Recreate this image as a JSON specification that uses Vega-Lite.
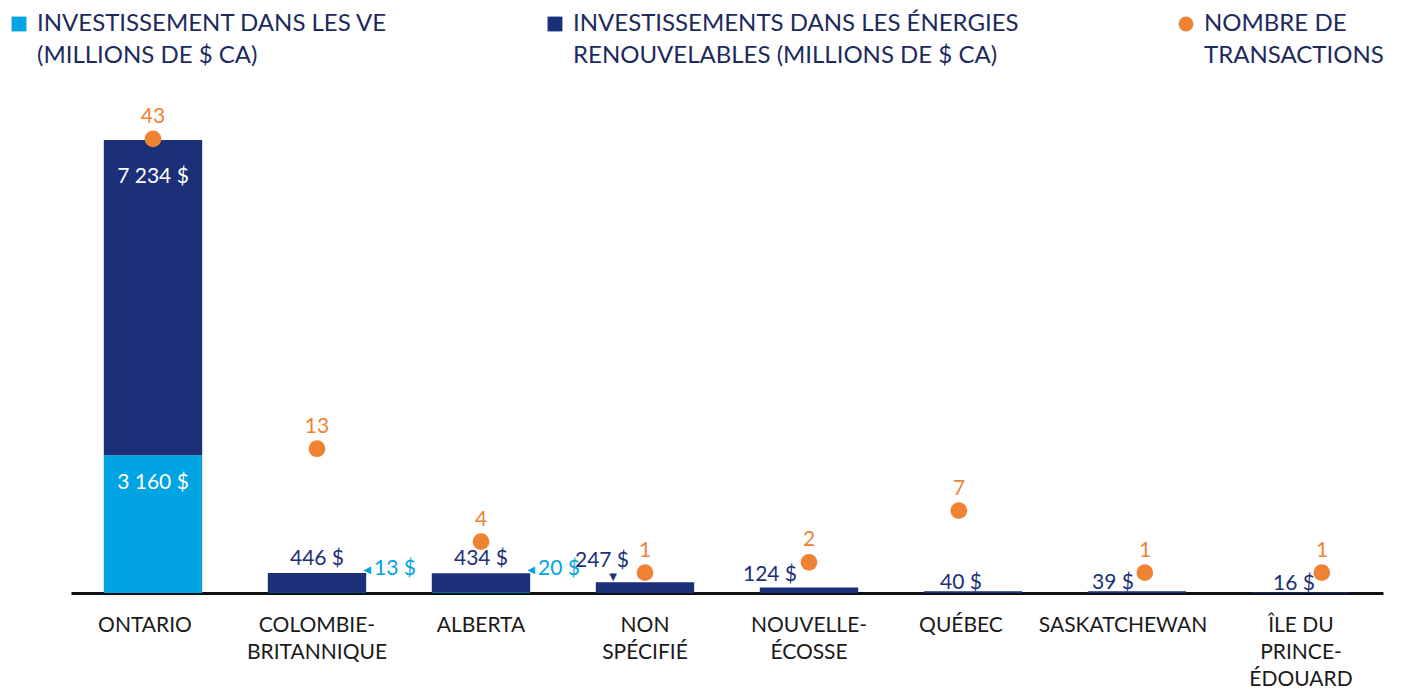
{
  "$schema": "https://vega.github.io/schema/vega-lite/v6.json",
  "autosize": "none",
  "width": 1312,
  "height": 483,
  "padding": {"left": 71, "top": 110, "right": 35, "bottom": 97},
  "config": {
    "view": {"stroke": null},
    "font": "Lato",
    "style": {"guide-label": {"lineHeight": 32}},
    "locale": {"number": {"decimal": ",", "thousands": " ", "grouping": [3], "currency": ["", " $"]}}
  },
  "data": {
    "values": [
      {"province": "ONTARIO", "series": "ve", "value": 3160},
      {"province": "ONTARIO", "series": "er", "value": 7234},
      {"province": "ONTARIO", "series": "tx", "value": 43},
      {"province": "COLOMBIE-BRITANNIQUE", "series": "ve", "value": 13},
      {"province": "COLOMBIE-BRITANNIQUE", "series": "er", "value": 446},
      {"province": "COLOMBIE-BRITANNIQUE", "series": "tx", "value": 13},
      {"province": "ALBERTA", "series": "ve", "value": 20},
      {"province": "ALBERTA", "series": "er", "value": 434},
      {"province": "ALBERTA", "series": "tx", "value": 4},
      {"province": "NON SPÉCIFIÉ", "series": "er", "value": 247},
      {"province": "NON SPÉCIFIÉ", "series": "tx", "value": 1},
      {"province": "NOUVELLE-ÉCOSSE", "series": "er", "value": 124},
      {"province": "NOUVELLE-ÉCOSSE", "series": "tx", "value": 2},
      {"province": "QUÉBEC", "series": "er", "value": 40},
      {"province": "QUÉBEC", "series": "tx", "value": 7},
      {"province": "SASKATCHEWAN", "series": "er", "value": 39},
      {"province": "SASKATCHEWAN", "series": "tx", "value": 1},
      {"province": "ÎLE-DU-PRINCE-ÉDOUARD", "series": "er", "value": 16},
      {"province": "ÎLE-DU-PRINCE-ÉDOUARD", "series": "tx", "value": 1}
    ]
  },
  "encoding": {
    "x": {
      "field": "province",
      "type": "nominal",
      "sort": null,
      "scale": {"paddingInner": 0.4, "paddingOuter": 0.2},
      "axis": {
        "title": null,
        "ticks": false,
        "domainColor": "#111111",
        "domainWidth": 3,
        "labelAngle": 0,
        "labelFont": "Lato",
        "labelFontSize": 21,
        "labelColor": "#1a1a1a",
        "labelPadding": 32,
        "labelLineHeight": 27,
        "labelBaseline": "middle",
        "labelLimit": 300,
        "labelOffset": {"condition": [{"test": "datum.label == 'QUÉBEC'", "value": -12}, {"test": "datum.label == 'SASKATCHEWAN'", "value": -14}, {"test": "datum.label == 'ONTARIO'", "value": -8}], "value": 0},
        "labelExpr": "datum.label == 'NON SPÉCIFIÉ' ? ['NON', 'SPÉCIFIÉ'] : datum.label == 'ÎLE-DU-PRINCE-ÉDOUARD' ? ['ÎLE DU', 'PRINCE-', 'ÉDOUARD'] : datum.label == 'COLOMBIE-BRITANNIQUE' ? ['COLOMBIE-', 'BRITANNIQUE'] : datum.label == 'NOUVELLE-ÉCOSSE' ? ['NOUVELLE-', 'ÉCOSSE'] : datum.label"
      }
    }
  },
  "resolve": {"scale": {"y": "independent"}},
  "layer": [
    {
      "transform": [{"filter": "datum.series != 'tx'"}],
      "mark": {"type": "bar"},
      "encoding": {
        "y": {"field": "value", "type": "quantitative", "stack": "zero", "scale": {"domain": [0, 11083], "nice": false}, "axis": null},
        "color": {
          "field": "series",
          "type": "nominal",
          "scale": {"domain": ["ve", "er", "tx"], "range": ["#00a4e2", "#1b3078", "#f08234"]},
          "legend": {
            "title": null,
            "orient": "none",
            "legendX": -64,
            "legendY": -98,
            "direction": "horizontal",
            "columns": 3,
            "columnPadding": 155,
            "symbolSize": 220,
            "labelFont": "Lato",
            "labelFontSize": 24,
            "labelColor": "#1c2a5e",
            "labelBaseline": "middle",
            "labelOffset": 6,
            "labelLimit": 600,
            "labelExpr": "datum.value == 've' ? ['INVESTISSEMENT DANS LES VE', '(MILLIONS DE $ CA)'] : datum.value == 'er' ? ['INVESTISSEMENTS DANS LES ÉNERGIES', 'RENOUVELABLES (MILLIONS DE $ CA)'] : ['NOMBRE DE', 'TRANSACTIONS']"
          }
        },
        "order": {"field": "series", "sort": "descending"}
      }
    },
    {
      "transform": [
        {"filter": "datum.series != 'tx' && datum.province == 'ONTARIO'"},
        {"stack": "value", "groupby": ["province"], "sort": [{"field": "series", "order": "descending"}], "as": ["v0", "v1"]},
        {"filter": "datum.series == 'er'"}
      ],
      "mark": {"type": "text", "baseline": "top", "dy": 26, "fontSize": 21, "color": "white"},
      "encoding": {
        "y": {"field": "v1", "type": "quantitative", "scale": {"domain": [0, 11083], "nice": false}, "axis": null},
        "text": {"field": "value", "type": "quantitative", "format": "$,d"}
      }
    },
    {
      "transform": [
        {"filter": "datum.series == 've' && datum.province == 'ONTARIO'"}
      ],
      "mark": {"type": "text", "baseline": "top", "dy": 17, "fontSize": 21, "color": "white"},
      "encoding": {
        "y": {"field": "value", "type": "quantitative", "scale": {"domain": [0, 11083], "nice": false}, "axis": null},
        "text": {"field": "value", "type": "quantitative", "format": "$,d"}
      }
    },
    {
      "transform": [
        {"filter": "datum.series != 'tx'"},
        {"joinaggregate": [{"op": "sum", "field": "value", "as": "total"}], "groupby": ["province"]},
        {"filter": "datum.series == 'er' && indexof(['COLOMBIE-BRITANNIQUE', 'ALBERTA'], datum.province) >= 0"}
      ],
      "mark": {"type": "text", "baseline": "bottom", "dy": -4, "fontSize": 21, "color": "#1b3078"},
      "encoding": {
        "y": {"field": "total", "type": "quantitative", "scale": {"domain": [0, 11083], "nice": false}, "axis": null},
        "text": {"field": "value", "type": "quantitative", "format": "$,d"}
      }
    },
    {
      "transform": [{"filter": "datum.series == 'er' && datum.province == 'NON SPÉCIFIÉ'"}],
      "mark": {"type": "text", "baseline": "bottom", "dx": -43, "dy": -11, "fontSize": 21, "color": "#1b3078"},
      "encoding": {
        "y": {"field": "value", "type": "quantitative", "scale": {"domain": [0, 11083], "nice": false}, "axis": null},
        "text": {"field": "value", "type": "quantitative", "format": "$,d"}
      }
    },
    {
      "transform": [{"filter": "datum.series == 'er' && datum.province == 'NOUVELLE-ÉCOSSE'"}],
      "mark": {"type": "text", "baseline": "bottom", "dx": -39, "dy": -3, "fontSize": 21, "color": "#1b3078"},
      "encoding": {
        "y": {"field": "value", "type": "quantitative", "scale": {"domain": [0, 11083], "nice": false}, "axis": null},
        "text": {"field": "value", "type": "quantitative", "format": "$,d"}
      }
    },
    {
      "transform": [{"filter": "datum.series == 'er' && datum.province == 'QUÉBEC'"}],
      "mark": {"type": "text", "baseline": "bottom", "dx": -12, "dy": 2, "fontSize": 21, "color": "#1b3078"},
      "encoding": {
        "y": {"field": "value", "type": "quantitative", "scale": {"domain": [0, 11083], "nice": false}, "axis": null},
        "text": {"field": "value", "type": "quantitative", "format": "$,d"}
      }
    },
    {
      "transform": [{"filter": "datum.series == 'er' && datum.province == 'SASKATCHEWAN'"}],
      "mark": {"type": "text", "baseline": "bottom", "dx": -24, "dy": 2, "fontSize": 21, "color": "#1b3078"},
      "encoding": {
        "y": {"field": "value", "type": "quantitative", "scale": {"domain": [0, 11083], "nice": false}, "axis": null},
        "text": {"field": "value", "type": "quantitative", "format": "$,d"}
      }
    },
    {
      "transform": [{"filter": "datum.series == 'er' && datum.province == 'ÎLE-DU-PRINCE-ÉDOUARD'"}],
      "mark": {"type": "text", "baseline": "bottom", "dx": -7, "dy": 2, "fontSize": 21, "color": "#1b3078"},
      "encoding": {
        "y": {"field": "value", "type": "quantitative", "scale": {"domain": [0, 11083], "nice": false}, "axis": null},
        "text": {"field": "value", "type": "quantitative", "format": "$,d"}
      }
    },
    {
      "transform": [{"filter": "datum.series == 'er' && datum.province == 'NON SPÉCIFIÉ'"}],
      "mark": {"type": "text", "baseline": "bottom", "dx": -32, "dy": 0, "fontSize": 10, "font": "DejaVu Sans", "color": "#1b3078", "text": "▼"},
      "encoding": {
        "y": {"field": "value", "type": "quantitative", "scale": {"domain": [0, 11083], "nice": false}, "axis": null}
      }
    },
    {
      "transform": [
        {"filter": "datum.series != 'tx'"},
        {"joinaggregate": [{"op": "sum", "field": "value", "as": "total"}], "groupby": ["province"]},
        {"filter": "datum.series == 've' && datum.province != 'ONTARIO'"}
      ],
      "mark": {"type": "text", "align": "left", "baseline": "middle", "dx": 57, "dy": -4, "fontSize": 21, "color": "#00a4e2"},
      "encoding": {
        "y": {"field": "total", "type": "quantitative", "scale": {"domain": [0, 11083], "nice": false}, "axis": null},
        "text": {"field": "value", "type": "quantitative", "format": "$,d"}
      }
    },
    {
      "transform": [
        {"filter": "datum.series != 'tx'"},
        {"joinaggregate": [{"op": "sum", "field": "value", "as": "total"}], "groupby": ["province"]},
        {"filter": "datum.series == 've' && datum.province != 'ONTARIO'"}
      ],
      "mark": {"type": "text", "align": "center", "baseline": "middle", "dx": 50, "dy": -3, "fontSize": 10, "font": "DejaVu Sans", "color": "#00a4e2", "text": "◀"},
      "encoding": {
        "y": {"field": "total", "type": "quantitative", "scale": {"domain": [0, 11083], "nice": false}, "axis": null}
      }
    },
    {
      "transform": [{"filter": "datum.series == 'tx' && indexof(['QUÉBEC', 'SASKATCHEWAN', 'ÎLE-DU-PRINCE-ÉDOUARD'], datum.province) < 0"}],
      "mark": {"type": "point", "filled": true, "opacity": 1, "size": 280},
      "encoding": {
        "y": {"field": "value", "type": "quantitative", "scale": {"domain": [-0.97, 45.8], "nice": false, "zero": false}, "axis": null},
        "color": {"field": "series", "type": "nominal"},
        "shape": {"field": "series", "type": "nominal", "scale": {"domain": ["ve", "er", "tx"], "range": ["square", "square", "circle"]}}
      }
    },
    {
      "transform": [{"filter": "datum.series == 'tx' && datum.province == 'QUÉBEC'"}],
      "mark": {"type": "point", "filled": true, "opacity": 1, "size": 280},
      "encoding": {
        "y": {"field": "value", "type": "quantitative", "scale": {"domain": [-0.97, 45.8], "nice": false, "zero": false}, "axis": null},
        "xOffset": {"value": 35},
        "color": {"field": "series", "type": "nominal"},
        "shape": {"field": "series", "type": "nominal", "scale": {"domain": ["ve", "er", "tx"], "range": ["square", "square", "circle"]}}
      }
    },
    {
      "transform": [{"filter": "datum.series == 'tx' && datum.province == 'SASKATCHEWAN'"}],
      "mark": {"type": "point", "filled": true, "opacity": 1, "size": 280},
      "encoding": {
        "y": {"field": "value", "type": "quantitative", "scale": {"domain": [-0.97, 45.8], "nice": false, "zero": false}, "axis": null},
        "xOffset": {"value": 57},
        "color": {"field": "series", "type": "nominal"},
        "shape": {"field": "series", "type": "nominal", "scale": {"domain": ["ve", "er", "tx"], "range": ["square", "square", "circle"]}}
      }
    },
    {
      "transform": [{"filter": "datum.series == 'tx' && datum.province == 'ÎLE-DU-PRINCE-ÉDOUARD'"}],
      "mark": {"type": "point", "filled": true, "opacity": 1, "size": 280},
      "encoding": {
        "y": {"field": "value", "type": "quantitative", "scale": {"domain": [-0.97, 45.8], "nice": false, "zero": false}, "axis": null},
        "xOffset": {"value": 70},
        "color": {"field": "series", "type": "nominal"},
        "shape": {"field": "series", "type": "nominal", "scale": {"domain": ["ve", "er", "tx"], "range": ["square", "square", "circle"]}}
      }
    },
    {
      "transform": [{"filter": "datum.series == 'tx' && indexof(['QUÉBEC', 'SASKATCHEWAN', 'ÎLE-DU-PRINCE-ÉDOUARD'], datum.province) < 0"}],
      "mark": {"type": "text", "baseline": "bottom", "dy": -12, "fontSize": 21, "color": "#f08234"},
      "encoding": {
        "y": {"field": "value", "type": "quantitative", "scale": {"domain": [-0.97, 45.8], "nice": false, "zero": false}, "axis": null},
        "text": {"field": "value", "type": "quantitative"}
      }
    },
    {
      "transform": [{"filter": "datum.series == 'tx' && datum.province == 'QUÉBEC'"}],
      "mark": {"type": "text", "baseline": "bottom", "dx": -14, "dy": -12, "fontSize": 21, "color": "#f08234"},
      "encoding": {
        "y": {"field": "value", "type": "quantitative", "scale": {"domain": [-0.97, 45.8], "nice": false, "zero": false}, "axis": null},
        "text": {"field": "value", "type": "quantitative"}
      }
    },
    {
      "transform": [{"filter": "datum.series == 'tx' && datum.province == 'SASKATCHEWAN'"}],
      "mark": {"type": "text", "baseline": "bottom", "dx": 8, "dy": -12, "fontSize": 21, "color": "#f08234"},
      "encoding": {
        "y": {"field": "value", "type": "quantitative", "scale": {"domain": [-0.97, 45.8], "nice": false, "zero": false}, "axis": null},
        "text": {"field": "value", "type": "quantitative"}
      }
    },
    {
      "transform": [{"filter": "datum.series == 'tx' && datum.province == 'ÎLE-DU-PRINCE-ÉDOUARD'"}],
      "mark": {"type": "text", "baseline": "bottom", "dx": 21, "dy": -12, "fontSize": 21, "color": "#f08234"},
      "encoding": {
        "y": {"field": "value", "type": "quantitative", "scale": {"domain": [-0.97, 45.8], "nice": false, "zero": false}, "axis": null},
        "text": {"field": "value", "type": "quantitative"}
      }
    }
  ]
}
